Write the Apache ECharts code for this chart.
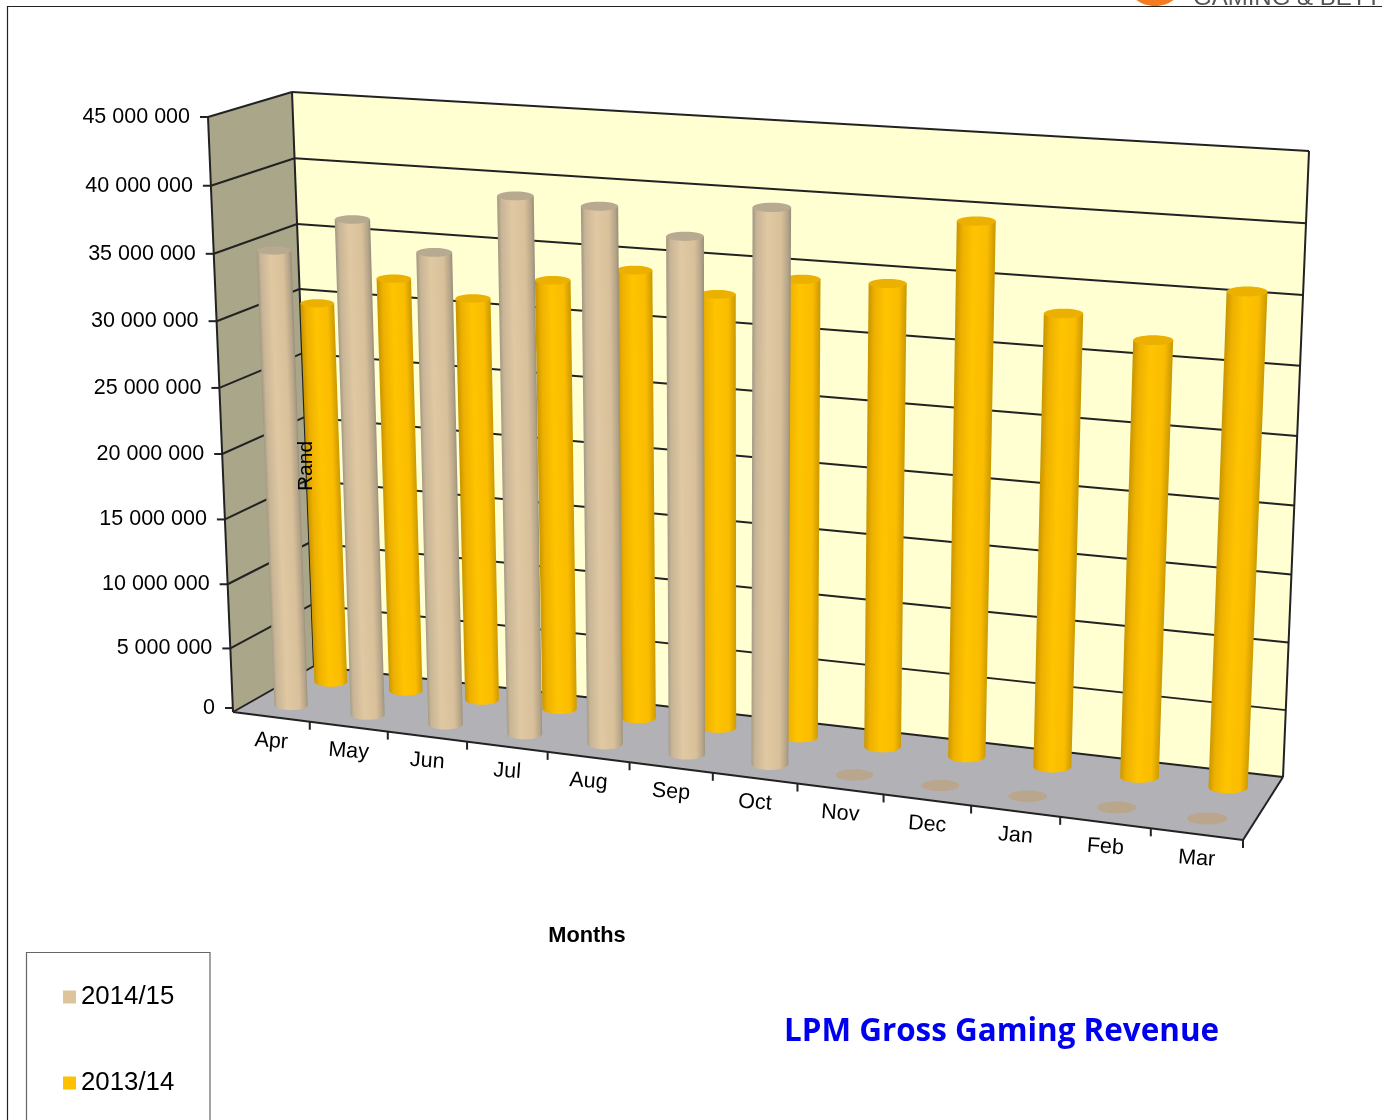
<!DOCTYPE html>
<html><head><meta charset="utf-8">
<style>html,body{margin:0;padding:0;background:#fff}#c{width:1382px;height:1120px}</style>
<script src="https://cdn.jsdelivr.net/npm/echarts@6/dist/echarts.min.js"></script>
</head><body><div id="c"></div>
<script>
const months = ['Apr','May','Jun','Jul','Aug','Sep','Oct','Nov','Dec','Jan','Feb','Mar'];
const revenue1415 = [34920000,37670000,35720000,40270000,39970000,38270000,40770000,0,0,0,0,0];
const revenue1314 = [29750000,32090000,31060000,32890000,34090000,32770000,34340000,34490000,39390000,33290000,31890000,35790000];
const valueTicks = [0,5000000,10000000,15000000,20000000,25000000,30000000,35000000,40000000,45000000];
const valueTickLabels = ['0','5 000 000','10 000 000','15 000 000','20 000 000','25 000 000','30 000 000','35 000 000','40 000 000','45 000 000'];

const FONT = '"Liberation Sans", Arial, sans-serif';
// projection box of the 3D chart
const C = {
  FBL:[233,712], FBR:[1243,840], BBL:[314,666], BBR:[1283,777],
  FTL:[208,117], FTR:[1270,191], BTL:[292,92],  BTR:[1309,151]
};
const warp = (t,a) => t/(a-(a-1)*t);
const mix = (p,q,t) => [p[0]+(q[0]-p[0])*t, p[1]+(q[1]-p[1])*t];
function project(u,d,v){
  const U = warp(u,1.105), V = warp(v,1.045);
  const fb = mix(C.FBL,C.FBR,U), bb = mix(C.BBL,C.BBR,U);
  const ft = mix(C.FTL,C.FTR,U), bt = mix(C.BTL,C.BTR,U);
  return mix(mix(fb,bb,d), mix(ft,bt,d), V);
}
function norm(params, pt){
  const s = params.coordSys;
  return [(pt[0]-s.x)/s.width, (s.y+s.height-pt[1])/s.height];
}
const LINE = {stroke:'#222', lineWidth:2, fill:'none'};
const seg = (a,b,style) => ({type:'line', silent:true, shape:{x1:a[0],y1:a[1],x2:b[0],y2:b[1]}, style:Object.assign({},LINE,style||{})});
const poly = (pts,fill) => ({type:'polygon', silent:true, shape:{points:pts}, style:{fill:fill, stroke:null}});

function renderWalls(){
  const p=(u,d,v)=>project(u,d,v);
  return {type:'group', children:[
    poly([p(0,1,0),p(1,1,0),p(1,1,1),p(0,1,1)],'#FFFFD2'),
    poly([p(0,0,0),p(0,1,0),p(0,1,1),p(0,0,1)],'#A9A68A'),
    poly([p(0,0,0),p(1,0,0),p(1,1,0),p(0,1,0)],'#B2B2B6'),
    seg(p(0,0,0),p(0,0,1)), seg(p(0,1,0),p(0,1,1)), seg(p(1,1,0),p(1,1,1)),
    seg(p(0,0,0),p(1,0,0)), seg(p(1,0,0),p(1,1,0))
  ]};
}
function renderValueTick(params,api){
  const pt = api.coord([0,api.value(1)]);
  const v = norm(params,pt)[1];
  const a=project(0,0,v), b=project(0,1,v), c=project(1,1,v);
  const ty = a[1] + (v===0 ? -4 : 0);
  return {type:'group', children:[
    seg(a,b), seg(b,c),
    seg([a[0]-8,ty],[a[0],ty]),
    {type:'text', silent:true, style:{text:valueTickLabels[params.dataIndex], x:a[0]-18, y:ty, align:'right', verticalAlign:'middle', font:'21.5px '+FONT, fill:'#000'}}
  ]};
}
function renderCategoryTick(params,api){
  const i = api.value(0);
  const pt = api.coord([i,0]), w = api.size([1,0])[0];
  const uc = norm(params,pt)[0], uEnd = norm(params,[pt[0]+w/2,pt[1]])[0];
  const e = project(uEnd,0,0), c = project(uc,0,0);
  return {type:'group', children:[
    seg(e,[e[0],e[1]+8]),
    {type:'text', silent:true, rotation:-0.07, x:c[0], y:c[1]+24.5,
     style:{text:months[i], x:0, y:0, align:'center', verticalAlign:'middle', font:'21.5px '+FONT, fill:'#000'}}
  ]};
}
const bodyWidth = 0.44; // share of a category band
function cylinder(depth, stops, topColor, flatColor){
  return function(params,api){
    const i = api.value(0), val = api.value(1);
    const base = api.coord([i,0]), top = api.coord([i,val]);
    const w = api.size([1,0])[0]*bodyWidth/2;
    const uc = norm(params,base)[0], v = norm(params,top)[1];
    const du = norm(params,[base[0]+w,base[1]])[0]-uc;
    const B = project(uc,depth,0), T = project(uc,depth,v);
    const rb = (project(uc+du,depth,0)[0]-project(uc-du,depth,0)[0])/2;
    const rt = (project(uc+du,depth,v)[0]-project(uc-du,depth,v)[0])/2;
    const ryb = rb*0.3, ryt = rt*0.24;
    if(val<=0){
      return {type:'ellipse', silent:true, shape:{cx:B[0],cy:B[1],rx:rb,ry:ryb}, style:{fill:flatColor}};
    }
    const pts=[[T[0]-rt,T[1]],[T[0]+rt,T[1]]];
    for(let k=0;k<=16;k++){
      const a=Math.PI*k/16;
      pts.push([B[0]+rb*Math.cos(a), B[1]+ryb*Math.sin(a)]);
    }
    const dx=T[0]-B[0], dy=T[1]-B[1], L=Math.hypot(dx,dy);
    const nx=-dy/L, ny=dx/L;
    const gx=(B[0]+T[0])/2, gy=(B[1]+T[1])/2, r=(rb+rt)/2;
    const sign = nx>=0?1:-1;
    const grad={type:'linear', global:true,
      x:gx-sign*nx*r, y:gy-sign*ny*r, x2:gx+sign*nx*r, y2:gy+sign*ny*r,
      colorStops:stops};
    return {type:'group', children:[
      {type:'polygon', silent:true, shape:{points:pts}, style:{fill:grad}},
      {type:'ellipse', silent:true, shape:{cx:T[0],cy:T[1],rx:rt,ry:ryt}, style:{fill:topColor}}
    ]};
  };
}
const tanStops=[{offset:0,color:'#A39A84'},{offset:.1,color:'#C8B596'},{offset:.4,color:'#E0C8A2'},{offset:.75,color:'#D8C09A'},{offset:.93,color:'#B5A488'},{offset:1,color:'#9A907C'}];
const goldStops=[{offset:0,color:'#C89600'},{offset:.15,color:'#EDB000'},{offset:.45,color:'#FFC400'},{offset:.8,color:'#FABC00'},{offset:1,color:'#CC9A00'}];

const chart = echarts.init(document.getElementById('c'),null,{renderer:'canvas'});
const T = (i,a)=>a.map((x,j)=>[j,x]);
chart.setOption({
  animation:false,
  backgroundColor:'#fff',
  title:{text:'LPM Gross Gaming Revenue', left:784, top:1017, padding:0,
    textStyle:{color:'#0000F0', fontFamily:'"Open Sans", sans-serif', fontWeight:'bold', fontSize:31.4}},
  legend:{data:['2014/15','2013/14'], orient:'vertical', left:63, top:984, padding:0, itemGap:60,
    icon:'rect', itemWidth:13, itemHeight:13, selectedMode:false,
    textStyle:{fontFamily:FONT, fontSize:25.8, color:'#000', padding:[0,0,0,0]}},
  grid:{left:0, top:0, width:1000, height:1000, show:false},
  xAxis:{type:'category', data:months, show:false},
  yAxis:{type:'value', min:0, max:45000000, interval:5000000, show:false},
  graphic:{elements:[
    {type:'rect', silent:true, z:-1, shape:{x:7.5,y:6.5,width:1500,height:1300}, style:{fill:'none',stroke:'#222',lineWidth:1.2}},
    {type:'rect', silent:true, z:-1, shape:{x:26.5,y:952.5,width:183.5,height:300}, style:{fill:'#fff',stroke:'#666',lineWidth:1.2}},
    {type:'ellipse', silent:true, shape:{cx:1155,cy:-14,rx:26,ry:20}, style:{fill:'#F47B20'}},
    {type:'text', silent:true, style:{text:'GAMING & BETTING', x:1193, y:10, verticalAlign:'bottom', font:'24px '+FONT, fill:'#555'}},
    {type:'text', silent:true, z:100, style:{text:'Months', x:587, y:936, align:'center', verticalAlign:'middle', font:'bold 21.8px '+FONT, fill:'#000'}},
    {type:'text', silent:true, z:100, rotation:Math.PI/2, x:306, y:466, style:{text:'Rand', x:0, y:0, align:'center', verticalAlign:'middle', font:'21px '+FONT, fill:'#000'}}
  ]},
  series:[
    {name:'walls', type:'custom', z:1, silent:true, clip:false, renderItem:renderWalls, data:[[0,0]], encode:{x:0,y:1}},
    {name:'valueTicks', type:'custom', z:2, silent:true, clip:false, renderItem:renderValueTick, data:valueTicks.map(v=>[0,v]), encode:{x:0,y:1}},
    {name:'categoryTicks', type:'custom', z:2, silent:true, clip:false, renderItem:renderCategoryTick, data:months.map((m,i)=>[i,0]), encode:{x:0,y:1}},
    {name:'2013/14', type:'custom', z:3, clip:false, silent:true, itemStyle:{color:'#FFC000'}, renderItem:cylinder(0.75,goldStops,'#EBB000','#B9A68C'), data:T(0,revenue1314), encode:{x:0,y:1}},
    {name:'2014/15', type:'custom', z:4, clip:false, silent:true, itemStyle:{color:'#DDC49C'}, renderItem:cylinder(0.25,tanStops,'#B8AA90','#B9A68C'), data:T(0,revenue1415), encode:{x:0,y:1}}
  ]
});
</script></body></html>
